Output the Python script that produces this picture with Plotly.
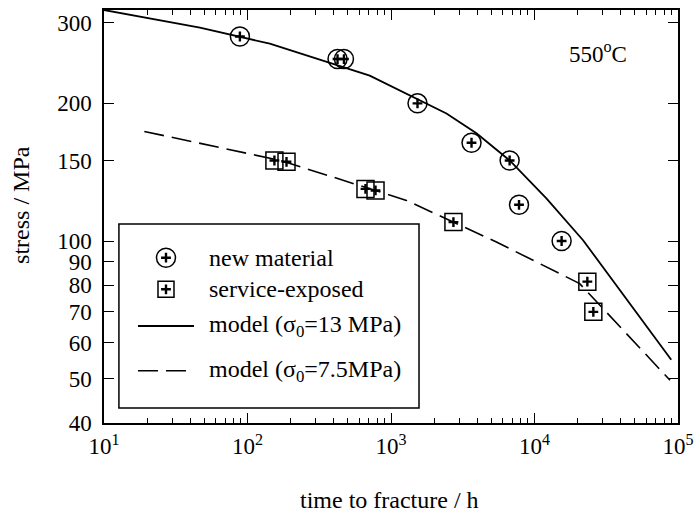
import numpy as np
import plotly.graph_objects as go

# ---------------- data ----------------
new_x = [88.5, 424, 470, 1530, 3640, 6710, 7800, 15450]
new_y = [280, 250, 250, 200, 164, 150, 120, 100]

svc_x = [154, 187, 664, 780, 2723, 23350, 25700]
svc_y = [150, 149, 130, 129, 110, 81.5, 70]

m13_x = [10, 46.6, 143, 711, 2435, 3940, 6714, 12100, 21800, 89700]
m13_y = [320, 293, 270, 230, 190, 172, 150, 124, 100.4, 55]

m75_x = [19.1, 46.6, 170, 1282, 5429, 20640, 31670, 88000]
m75_y = [173.6, 163.3, 150, 122.7, 99.5, 80.7, 70.0, 49.6]

x_tickvals = [10, 100, 1000, 10000, 100000]
x_ticktext = ["10<sup>1</sup>", "10<sup>2</sup>", "10<sup>3</sup>", "10<sup>4</sup>", "10<sup>5</sup>"]
y_tickvals = [40, 50, 60, 70, 80, 90, 100, 150, 200, 300]
y_ticktext = [str(v) for v in y_tickvals]

legend_labels = ["new material", "service-exposed",
                 "model (σ<sub>0</sub>=13 MPa)", "model (σ<sub>0</sub>=7.5MPa)"]

FONT = "Liberation Serif"
BLACK = "black"

fig = go.Figure()

# model curves
fig.add_trace(go.Scatter(x=m13_x, y=m13_y, mode="lines",
                         line=dict(color=BLACK, width=1.8), showlegend=False))
fig.add_trace(go.Scatter(x=m75_x, y=m75_y, mode="lines",
                         line=dict(color=BLACK, width=1.6, dash="20px,8px"), showlegend=False))

# new material: circle + small plus
fig.add_trace(go.Scatter(x=new_x, y=new_y, mode="markers",
                         marker=dict(symbol="circle-open", size=19, color=BLACK, line=dict(width=1.5, color=BLACK)),
                         showlegend=False))
fig.add_trace(go.Scatter(x=new_x, y=new_y, mode="markers",
                         marker=dict(symbol="cross-thin-open", size=7, color=BLACK, line=dict(width=2.4, color=BLACK)),
                         showlegend=False))
# service-exposed: square + small plus
fig.add_trace(go.Scatter(x=svc_x, y=svc_y, mode="markers",
                         marker=dict(symbol="square-open", size=17, color=BLACK, line=dict(width=1.5, color=BLACK)),
                         showlegend=False))
fig.add_trace(go.Scatter(x=svc_x, y=svc_y, mode="markers",
                         marker=dict(symbol="cross-thin-open", size=7, color=BLACK, line=dict(width=2.4, color=BLACK)),
                         showlegend=False))

# ---------------- manual legend ----------------
# positions are fractions of the plot area
box = dict(x0=0.026, x1=0.5488, y0=0.0363, y1=0.4818)
row_y = [0.4002, 0.3237, 0.2349, 0.1266]
sym_x = 0.108
line_x0, line_x1 = 0.0592, 0.1568
text_x = 0.1794

fig.add_shape(type="rect", xref="paper", yref="paper", **box,
              line=dict(color=BLACK, width=1.5), fillcolor="rgba(0,0,0,0)", layer="below")

fig.add_trace(go.Scatter(x=[sym_x], y=[row_y[0]], xaxis="x2", yaxis="y2", mode="markers",
                         marker=dict(symbol="circle-open", size=19, color=BLACK, line=dict(width=1.5, color=BLACK)),
                         showlegend=False))
fig.add_trace(go.Scatter(x=[sym_x], y=[row_y[1]], xaxis="x2", yaxis="y2", mode="markers",
                         marker=dict(symbol="square-open", size=16, color=BLACK, line=dict(width=1.5, color=BLACK)),
                         showlegend=False))
fig.add_trace(go.Scatter(x=[sym_x, sym_x], y=row_y[:2], xaxis="x2", yaxis="y2", mode="markers",
                         marker=dict(symbol="cross-thin-open", size=7, color=BLACK, line=dict(width=2.4, color=BLACK)),
                         showlegend=False))
fig.add_shape(type="line", xref="paper", yref="paper", x0=line_x0, x1=line_x1, y0=row_y[2], y1=row_y[2],
              line=dict(color=BLACK, width=1.8))
fig.add_shape(type="line", xref="paper", yref="paper", x0=line_x0, x1=line_x1, y0=row_y[3], y1=row_y[3],
              line=dict(color=BLACK, width=1.6, dash="20px,8px"))

annotations = []
for lbl, yy in zip(legend_labels, row_y):
    annotations.append(dict(text=lbl, x=text_x, y=yy, xref="paper", yref="paper",
                            xanchor="left", yanchor="middle", showarrow=False,
                            font=dict(family=FONT, size=24, color=BLACK)))

# titles
annotations.append(dict(text="time to fracture / h", x=0.4974, y=-0.186, xref="paper", yref="paper",
                        xanchor="center", yanchor="middle", showarrow=False,
                        font=dict(family=FONT, size=24, color=BLACK)))
annotations.append(dict(text="stress / MPa", x=-0.1446, y=0.528, xref="paper", yref="paper",
                        xanchor="center", yanchor="middle", showarrow=False, textangle=-90,
                        font=dict(family=FONT, size=24, color=BLACK)))
annotations.append(dict(text="550<sup>o</sup>C", x=0.8606, y=0.8983, xref="paper", yref="paper",
                        xanchor="center", yanchor="middle", showarrow=False,
                        font=dict(family=FONT, size=23, color=BLACK)))

minor_x = [m * 10 ** k for k in range(1, 5) for m in range(2, 10)]

axis_common = dict(showline=True, linecolor=BLACK, linewidth=1.5, mirror="allticks",
                   ticks="inside", ticklen=10, tickwidth=1.2, tickcolor=BLACK,
                   showgrid=False, zeroline=False, automargin=False,
                   tickfont=dict(family=FONT, size=23, color=BLACK))

fig.update_layout(
    width=694, height=515,
    margin=dict(l=104, r=16, t=10, b=92, autoexpand=False),
    paper_bgcolor="white", plot_bgcolor="white",
    showlegend=False,
    xaxis=dict(type="log", range=[1, 5], tickmode="array", tickvals=x_tickvals, ticktext=x_ticktext,
               minor=dict(ticks="inside", ticklen=5, tickwidth=1.2, tickcolor=BLACK, tickvals=minor_x),
               ticklabelstandoff=2, **axis_common),
    yaxis=dict(type="log", range=[np.log10(40), np.log10(320)], tickmode="array",
               tickvals=y_tickvals, ticktext=y_ticktext, ticklabelstandoff=6, **axis_common),
    xaxis2=dict(overlaying="x", range=[0, 1], visible=False, fixedrange=True),
    yaxis2=dict(overlaying="y", range=[0, 1], visible=False, fixedrange=True),
    annotations=annotations,
)

fig.write_html("out.html")
